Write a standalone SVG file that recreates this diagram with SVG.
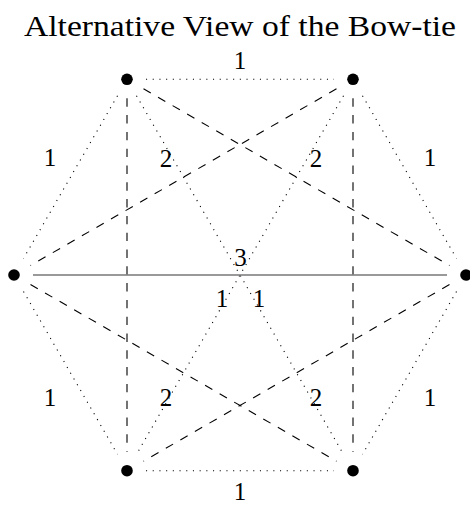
<svg xmlns="http://www.w3.org/2000/svg" width="470" height="506" viewBox="0 0 470 506">
<style>
  .node { fill: #000; }
  .dot { stroke: #000; stroke-width: 1.1; stroke-dasharray: 1.1 5.6; fill: none; }
  .dash { stroke: #000; stroke-width: 1.1; stroke-dasharray: 8.4 8.4; fill: none; }
  .solid { stroke: #777; stroke-width: 1.4; fill: none; }
  text { font-family: "Liberation Serif", "Times New Roman", serif; fill: #000; text-anchor: middle; }
  .lbl { font-size: 25px; }
  .title { font-size: 29px; }
</style>
<rect width="470" height="506" fill="#fff"/>
<text class="title" x="240" y="36" textLength="432" lengthAdjust="spacingAndGlyphs">Alternative View of the Bow-tie</text>
<g id="connectors">
  <line class="dot" x1="146" y1="79.3" x2="334" y2="79.3"/>
  <line class="dot" x1="117.5" y1="95.7" x2="23.5" y2="258.5"/>
  <line class="dot" x1="362.5" y1="95.7" x2="456.5" y2="258.5"/>
  <line class="dot" x1="23.5" y1="291.5" x2="117.5" y2="454.3"/>
  <line class="dot" x1="456.5" y1="291.5" x2="362.5" y2="454.3"/>
  <line class="dot" x1="146" y1="470.7" x2="334" y2="470.7"/>
  <line class="dot" x1="136.5" y1="95.7" x2="343.5" y2="454.3"/>
  <line class="dot" x1="343.5" y1="95.7" x2="136.5" y2="454.3"/>
  <line class="dash" x1="127" y1="98.3" x2="127" y2="451.7"/>
  <line class="dash" x1="353" y1="98.3" x2="353" y2="451.7"/>
  <line class="dash" x1="143.5" y1="88.8" x2="449.5" y2="265.5"/>
  <line class="dash" x1="336.5" y1="88.8" x2="30.5" y2="265.5"/>
  <line class="dash" x1="30.5" y1="284.5" x2="336.5" y2="461.2"/>
  <line class="dash" x1="449.5" y1="284.5" x2="143.5" y2="461.2"/>
  <line class="solid" x1="33" y1="275" x2="447" y2="275"/>
</g>
<g id="labels">
  <text class="lbl" x="240" y="69">1</text>
  <text class="lbl" x="50" y="166">1</text>
  <text class="lbl" x="430" y="166">1</text>
  <text class="lbl" x="166" y="167">2</text>
  <text class="lbl" x="316" y="167">2</text>
  <text class="lbl" x="240.5" y="266">3</text>
  <text class="lbl" x="222" y="307">1</text>
  <text class="lbl" x="259" y="307">1</text>
  <text class="lbl" x="166" y="406">2</text>
  <text class="lbl" x="316" y="406">2</text>
  <text class="lbl" x="50" y="406">1</text>
  <text class="lbl" x="430" y="406">1</text>
  <text class="lbl" x="240" y="500">1</text>
</g>
<g id="node-tl"><circle class="node" cx="127" cy="79.3" r="5.8"/></g>
<g id="node-tr"><circle class="node" cx="353" cy="79.3" r="5.8"/></g>
<g id="node-l"><circle class="node" cx="14" cy="275" r="5.8"/></g>
<g id="node-r"><circle class="node" cx="466" cy="275" r="5.8"/></g>
<g id="node-bl"><circle class="node" cx="127" cy="470.7" r="5.8"/></g>
<g id="node-br"><circle class="node" cx="353" cy="470.7" r="5.8"/></g>
</svg>
